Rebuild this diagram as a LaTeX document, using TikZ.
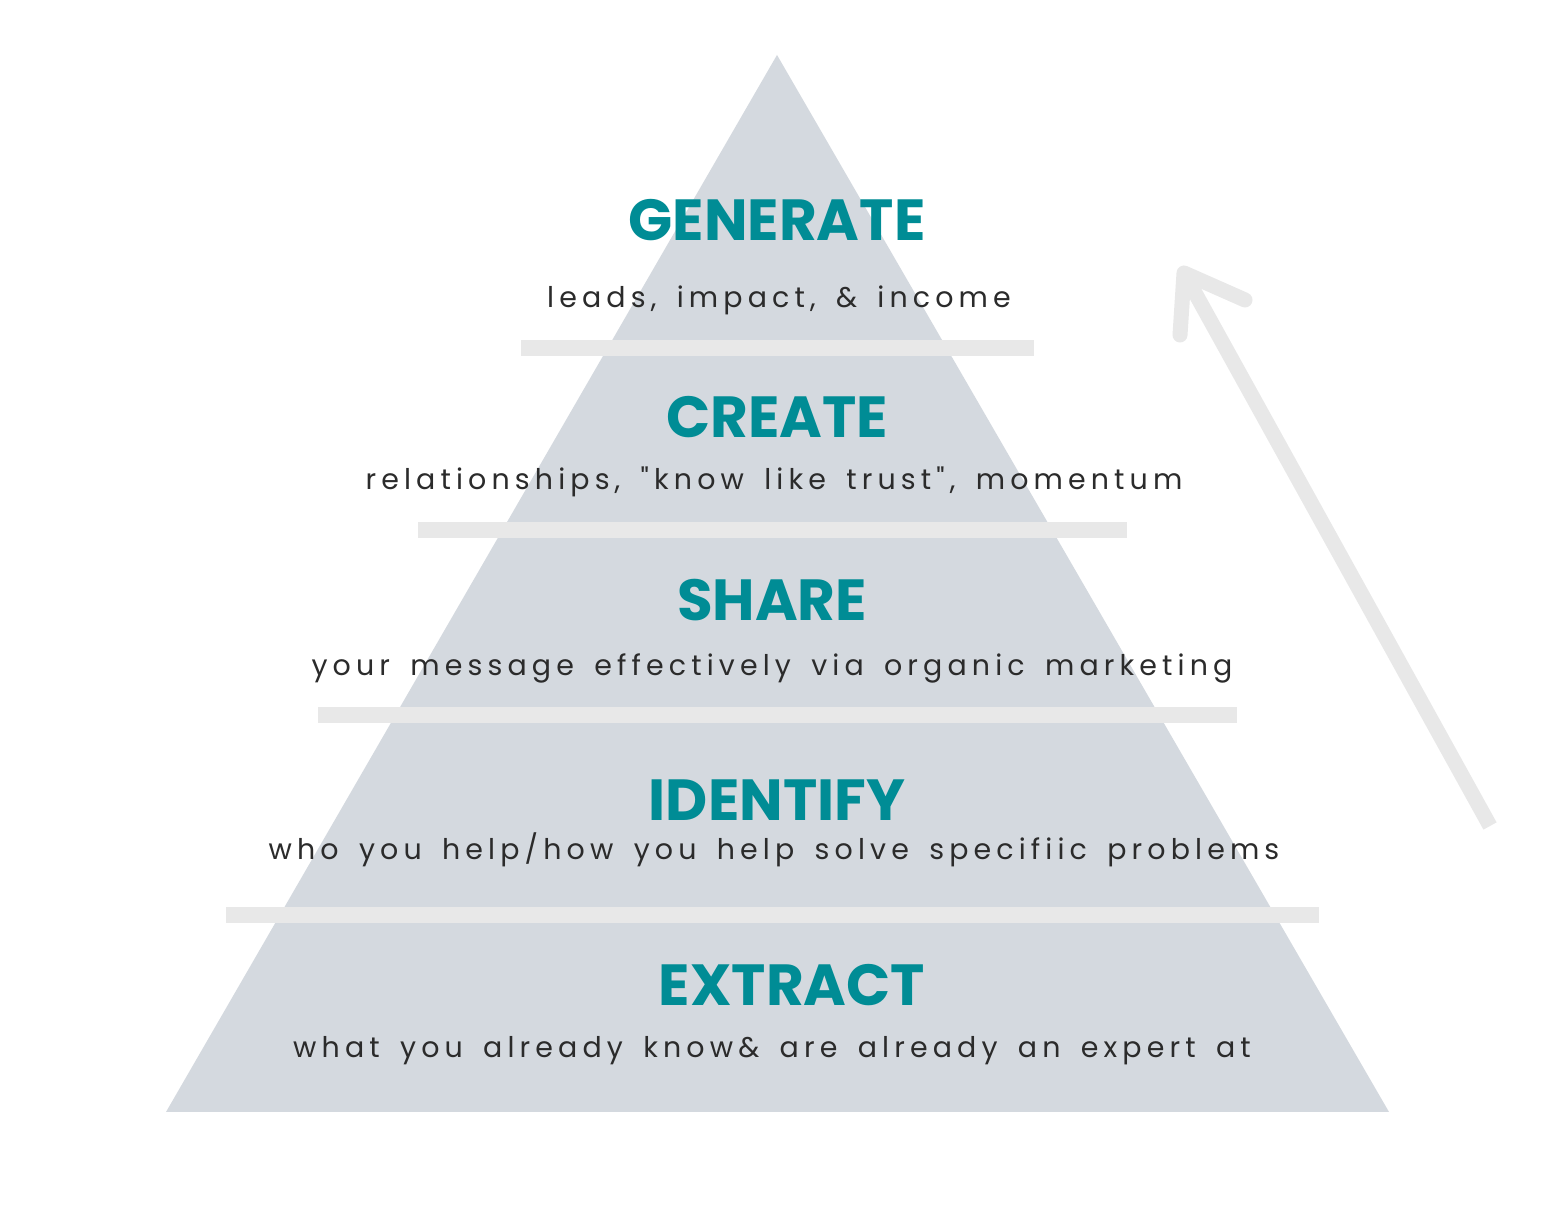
\documentclass[tikz,border=0pt]{standalone}
\usepackage{fontspec}
\setmainfont{Poppins}
\newfontfamily\titlefont{Poppins}[BoldFont={Poppins Bold}]
\newfontfamily\spacedfont{Poppins}[LetterSpace=18, WordSpace=1.6]
\usetikzlibrary{positioning}
\definecolor{teal}{HTML}{008C95}
\definecolor{pyrgray}{HTML}{D4D9DF}
\definecolor{bargray}{HTML}{E8E8E8}
\definecolor{dktext}{HTML}{2B2B2B}

\tikzset{
  level/.style={text=teal, font=\titlefont\fontsize{16.5}{18}\bfseries, inner sep=0pt},
  caption/.style={text=dktext, font=\spacedfont\fontsize{8.1}{10}\selectfont, inner sep=0pt},
  shelf/.style={bargray, line width=0.16cm},
}

\begin{document}
\begin{tikzpicture}

% Canvas
\useasboundingbox (0,0) rectangle (15.45,12.13);
\fill[white] (0,0) rectangle (15.45,12.13);

% Pyramid
\fill[pyrgray] (1.66,1.01) -- (7.77,11.58) -- (13.89,1.01) -- cycle;

% Shelves between levels
\draw[shelf] (5.21,8.65) -- (10.34,8.65);
\draw[shelf] (4.18,6.83) -- (11.27,6.83);
\draw[shelf] (3.18,4.98) -- (12.37,4.98);
\draw[shelf] (2.26,2.98) -- (13.19,2.98);

% Levels
\node[level] (generate) at (7.77,9.93) {GENERATE};
\node[caption] (generatetxt) at (7.79,9.13) {leads, impact, \& income};

\node[level] (create) at (7.77,7.96) {CREATE};
\node[caption] (createtxt) at (7.74,7.31) {relationships, "know like trust", momentum};

\node[level] (share) at (7.72,6.13) {SHARE};
\node[caption] (sharetxt) at (7.72,5.45) {your message effectively via organic marketing};

\node[level] (identify) at (7.77,4.13) {IDENTIFY};
\node[caption] (identifytxt) at (7.74,3.63) {who you help/how you help solve specifiic problems};

\node[level] (extract) at (7.92,2.28) {EXTRACT};
\node[caption] (extracttxt) at (7.72,1.62) {what you already know\& are already an expert at};

% Growth arrow
\coordinate (arrowstart) at (14.90,3.87);
\coordinate (arrowtip) at (11.84,9.40);
\coordinate (armleft) at (11.80,8.78);
\coordinate (armright) at (12.45,9.13);
\draw[bargray, line width=0.15cm] (arrowstart) -- (arrowtip);
\draw[bargray, line width=0.15cm, line cap=round, line join=round] (armleft) -- (arrowtip) -- (armright);

\end{tikzpicture}
\end{document}
